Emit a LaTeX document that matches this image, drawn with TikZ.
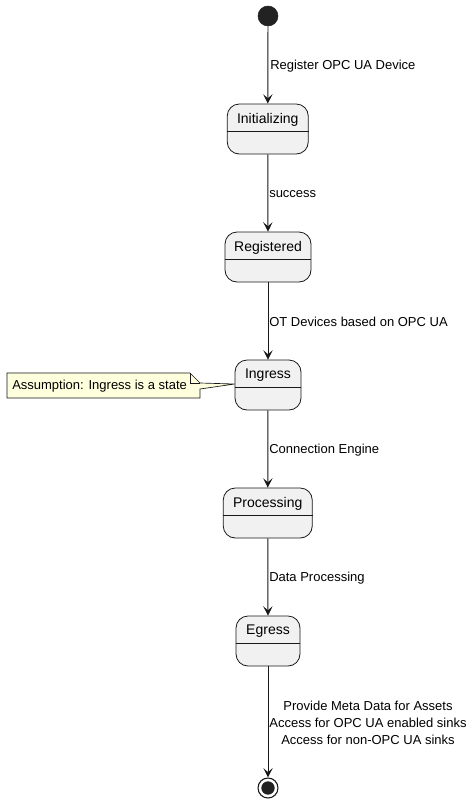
\documentclass[tikz,border=0pt]{standalone}
\usepackage{fontspec}
\setmainfont{Liberation Sans}
\usetikzlibrary{arrows.meta}
\definecolor{boxfill}{HTML}{F1F1F1}
\definecolor{boxline}{HTML}{181818}
\definecolor{notefill}{HTML}{FEFFDD}
\definecolor{startfill}{HTML}{222222}
\tikzset{
  statebox/.style={draw=boxline, fill=boxfill, rounded corners=9pt, line width=0.6pt, minimum height=37.5pt, inner sep=0pt},
  statename/.style={font=\fontsize{10.5pt}{12pt}\selectfont, inner sep=0pt, text=black},
  elabel/.style={font=\fontsize{9.75pt}{12.5pt}\selectfont, inner sep=0pt, anchor=west, text=black},
  edge/.style={draw=boxline, line width=0.7pt, -{Stealth[length=7pt, width=7pt, inset=3pt]}},
  divider/.style={draw=boxline, line width=0.6pt},
}
\begin{document}
\begin{tikzpicture}[x=0.75pt, y=-0.75pt]
\useasboundingbox (0,0) rectangle (473,804);
% start
\node[circle, fill=startfill, draw=startfill, minimum size=15pt, inner sep=0pt] (start) at (268,16) {};
% states
\node[statebox, minimum width=60.75pt] (init) at (267.75,129) {};
\node[statename] (initT) at (267.75,119.5) {Initializing};
\draw[divider] (init.west |- 0,131.5) -- (init.east |- 0,131.5);

\node[statebox, minimum width=64.5pt] (reg) at (268,257) {};
\node[statename] (regT) at (268,247.5) {Registered};
\draw[divider] (reg.west |- 0,259.5) -- (reg.east |- 0,259.5);

\node[statebox, minimum width=49.5pt] (ing) at (268,385) {};
\node[statename] (ingT) at (268,375.5) {Ingress};
\draw[divider] (ing.west |- 0,387.5) -- (ing.east |- 0,387.5);

\node[statebox, minimum width=66.75pt] (proc) at (267.75,513) {};
\node[statename] (procT) at (267.75,503.5) {Processing};
\draw[divider] (proc.west |- 0,515.5) -- (proc.east |- 0,515.5);

\node[statebox, minimum width=48pt] (egr) at (268,641) {};
\node[statename] (egrT) at (268,631.5) {Egress};
\draw[divider] (egr.west |- 0,643.5) -- (egr.east |- 0,643.5);

% end
\node[circle, draw=boxline, fill=white, line width=0.8pt, minimum size=15pt, inner sep=0pt] (end) at (268,788) {};
\node[circle, fill=startfill, minimum size=10pt, inner sep=0pt] (endin) at (268,788) {};

% edges
\draw[edge] (start) -- (init);
\draw[edge] (init) -- (reg);
\draw[edge] (reg) -- (ing);
\draw[edge] (ing) -- (proc);
\draw[edge] (proc) -- (egr);
\draw[edge] (egr) -- (end);

% labels
\node[elabel] (l1) at (270,66) {Register OPC UA Device};
\node[elabel] (l2) at (269,194) {success};
\node[elabel] (l3) at (269,322) {OT Devices based on OPC UA};
\node[elabel] (l4) at (269,450) {Connection Engine};
\node[elabel] (l5) at (269,578) {Data Processing};
\node[elabel, anchor=center, align=center] (l6) at (368,723) {Provide Meta Data for Assets\\Access for OPC UA enabled sinks\\Access for non-OPC UA sinks};

% note
\coordinate (tip) at (ing.west |- 0,384);
\draw[draw=boxline, fill=notefill, line width=0.5pt]
  (7,373) -- (190,373) -- (200,383) -- (tip) -- (200,389) -- (200,398) -- (7,398) -- cycle;
\draw[draw=boxline, line width=0.5pt] (190,373) -- (190,383) -- (200,383);
\node[elabel] (note) at (12,386) {Assumption: Ingress is a state};
\end{tikzpicture}
\end{document}
